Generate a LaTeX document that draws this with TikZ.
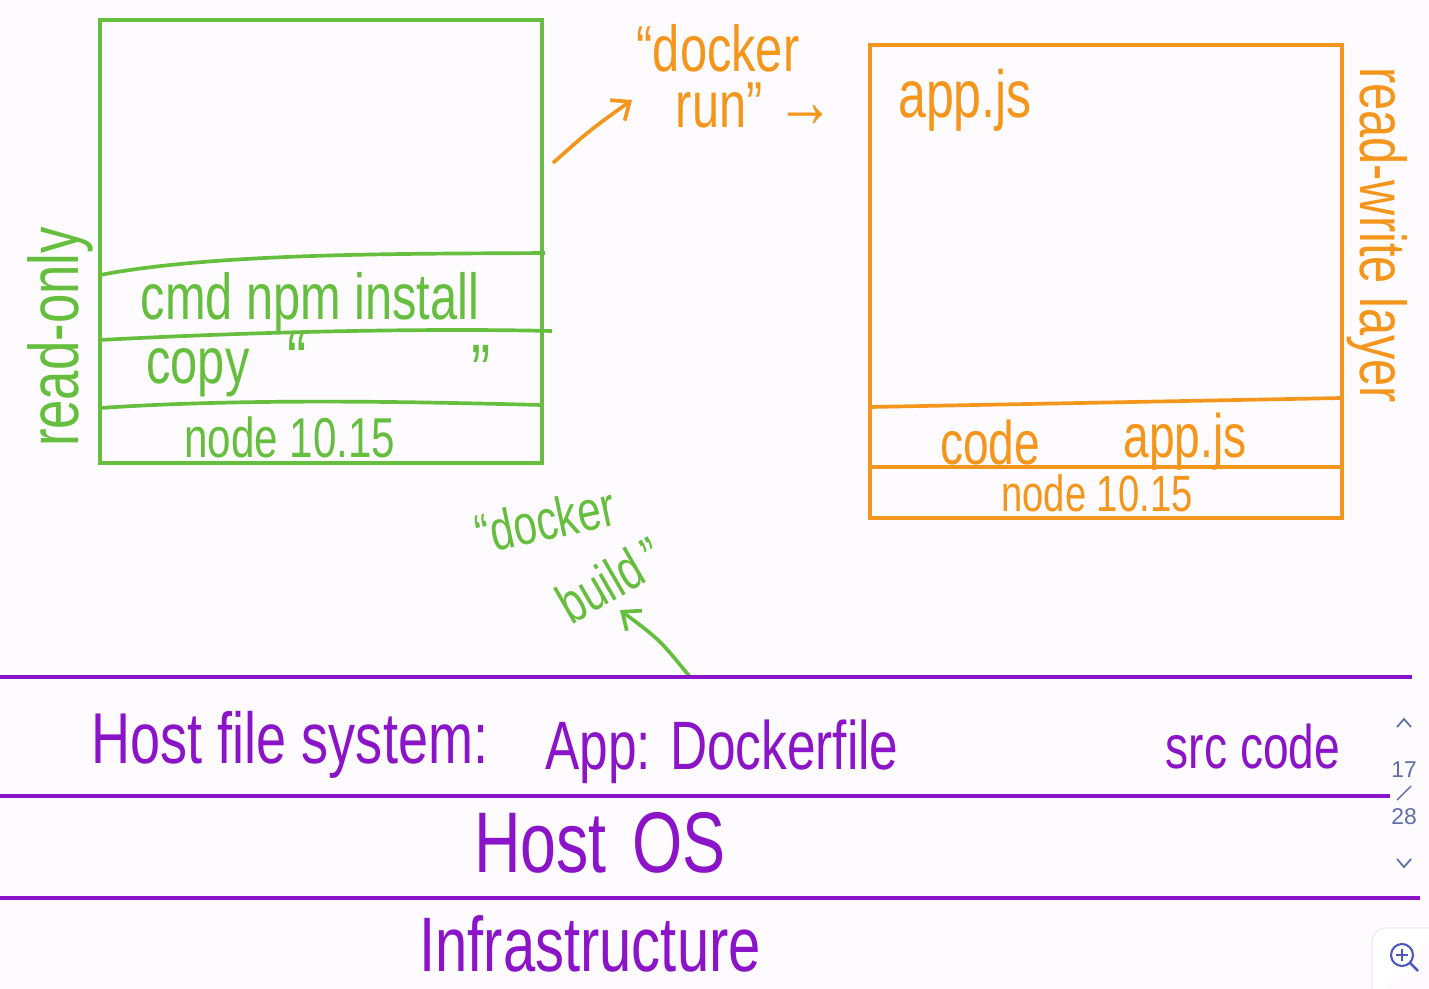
\documentclass[tikz,border=0pt]{standalone}
\usepackage{fontspec}
\setmainfont{Liberation Sans}
\newfontfamily\handfont[FakeStretch=0.75]{Liberation Sans}
\usetikzlibrary{arrows.meta}
\definecolor{inkgreen}{RGB}{102,190,62}
\definecolor{inkorange}{RGB}{245,150,28}
\definecolor{inkpurple}{RGB}{140,20,200}
\definecolor{uiblue}{RGB}{95,110,170}
\definecolor{paper}{RGB}{253,251,253}
\newcommand*{\hand}[1]{\handfont\fontsize{#1}{#1}\selectfont}

\tikzset{
  greenink/.style  = {draw=inkgreen, line width=2.1pt},
  orangeink/.style = {draw=inkorange, line width=2.1pt},
  purpleink/.style = {draw=inkpurple, line width=2.4pt},
  greenlabel/.style  = {text=inkgreen, inner sep=0pt},
  orangelabel/.style = {text=inkorange, inner sep=0pt},
  purplelabel/.style = {text=inkpurple, inner sep=0pt},
  uilabel/.style = {text=uiblue, inner sep=0pt, font=\fontsize{13}{13}\selectfont}
}

\begin{document}
\begin{tikzpicture}[x=0.02cm, y=-0.02cm]

    \fill[paper] (0,0) rectangle (1429,989);
    \useasboundingbox (0,0) rectangle (1429,989);

    % image (read-only layers)
    \draw[greenink] (100,20) rectangle (542,463);
    \draw[greenink] (100,275) .. controls (220,252) and (420,254) .. (545,253);
    \draw[greenink] (100,340) .. controls (250,332) and (420,328) .. (552,331);
    \draw[greenink] (100,408) .. controls (250,398) and (420,402) .. (542,405);

    \node[greenlabel, font=\hand{40}, rotate=90] (readonly) at (60,337) {read-only};
    \node[greenlabel, font=\hand{37}] (npm) at (310,303) {cmd npm install};
    \node[greenlabel, font=\hand{37}] (copy) at (198,373) {copy};
    \node[greenlabel, font=\hand{44}] (copyopen) at (297,360) {“};
    \node[greenlabel, font=\hand{44}] (copyclose) at (481,372) {”};
    \node[greenlabel, font=\hand{32}] (basegreen) at (290,437) {node 10.15};

    % docker run
    \coordinate (runtail) at (553,163);
    \coordinate (runhead) at (632,100);
    \draw[orangeink, -{Straight Barb[length=3mm, width=5mm]}]
        (runtail) .. controls (590,130) .. (runhead);
    \node[orangelabel, font=\hand{37}] (runone) at (718,48) {“docker};
    \node[orangelabel, font=\hand{37}] (runtwo) at (755,105) {run” {\fontsize{44}{44}\selectfont →}};

    % container (read-write layer)
    \draw[orangeink] (870,45) rectangle (1342,518);
    \draw[orangeink] (870,407) -- (1342,398);
    \draw[orangeink] (870,467) -- (1342,467);

    \node[orangelabel, font=\hand{38}] (appjs) at (965,100) {app.js};
    \node[orangelabel, font=\hand{35}] (code) at (990,443) {code};
    \node[orangelabel, font=\hand{35}] (codeapp) at (1185,442) {app.js};
    \node[orangelabel, font=\hand{29}] (baseorange) at (1097,493) {node 10.15};
    \node[orangelabel, font=\hand{37}, rotate=-90] (readwrite) at (1377,235) {read-write layer};

    % docker build
    \node[greenlabel, font=\hand{32}, rotate=12] (buildone) at (545,520) {“docker};
    \node[greenlabel, font=\hand{32}, rotate=30] (buildtwo) at (610,580) {build\,”};
    \coordinate (buildtail) at (690,677);
    \coordinate (buildhead) at (620,610);
    \draw[greenink, -{Straight Barb[length=3mm, width=5mm]}]
        (buildtail) .. controls (660,640) .. (buildhead);

    % host
    \draw[purpleink] (0,677) -- (1412,677);
    \draw[purpleink] (0,796) -- (1390,796);
    \draw[purpleink] (0,898) -- (1420,898);

    \node[purplelabel, font=\hand{41}] (hostfs) at (290,745) {Host file system:};
    \node[purplelabel, font=\hand{39}] (dockerfile) at (722,752) {App: Dockerfile};
    \node[purplelabel, font=\hand{35}] (srccode) at (1253,747) {src code};
    \node[purplelabel, font=\hand{49}] (hostos) at (600,843) {Host\hspace{0.3em}OS};
    \node[purplelabel, font=\hand{44}] (infra) at (590,944) {Infrastructure};

    % viewer controls
    \draw[uiblue, line width=1pt] (1397,727) -- (1404,719) -- (1411,727);
    \node[uilabel] (pagenow) at (1404,770) {17};
    \draw[uiblue, line width=0.8pt] (1397,800) -- (1411,786);
    \node[uilabel] (pageall) at (1404,817) {28};
    \draw[uiblue, line width=1pt] (1397,859) -- (1404,867) -- (1411,859);
    \draw[black!12, fill=white, rounded corners=8pt] (1372,1000) -- (1372,928) -- (1440,928);
    \draw[uiblue!80!blue, line width=1.2pt] (1402,955) circle (11);
    \draw[uiblue!80!blue, line width=1.2pt] (1402,949) -- (1402,961) (1396,955) -- (1408,955);
    \draw[uiblue!80!blue, line width=1.4pt] (1410,963) -- (1418,971);

\end{tikzpicture}
\end{document}
